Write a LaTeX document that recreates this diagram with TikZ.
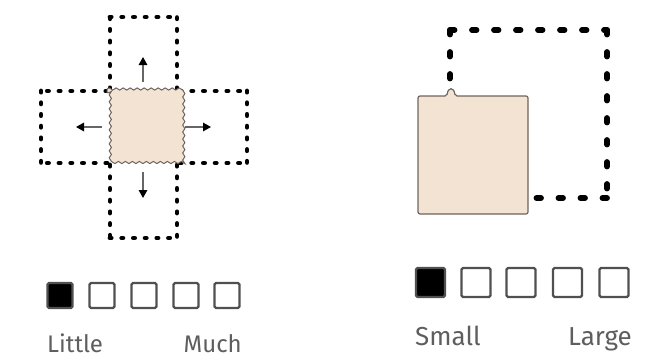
\documentclass[tikz,border=0pt]{standalone}
\usepackage{fontspec}
\setmainfont{Fira Sans}
\usetikzlibrary{decorations.pathmorphing,arrows.meta}
\definecolor{beige}{HTML}{F3E3D3}
\definecolor{rim}{HTML}{6E655E}
\definecolor{txt}{HTML}{5E5E5E}
\definecolor{boxline}{HTML}{505050}
\tikzset{
  dotline/.style={line width=4.8pt, line cap=round, dash pattern=on 1.2pt off 10.5pt},
  dashline/.style={line width=5.8pt, line cap=round, dash pattern=on 4.5pt off 17.5pt},
  pusharrow/.style={draw=black!60, line width=1.6pt,
    -{Triangle[length=8pt,width=8.5pt,color=black]}},
  scalebox/.style={draw=boxline, line width=2.3pt, rounded corners=1.5pt,
    inner sep=0pt, minimum size=#1},
  scalelabel/.style={text=txt, inner sep=0pt}
}
\begin{document}
\begin{tikzpicture}[x=1pt,y=-1pt]
\useasboundingbox (0,0) rectangle (652,361);

% ---- left: spreading square with four dotted fields ----
\coordinate (t1) at (110,89);  \coordinate (t2) at (110,17);
\coordinate (t3) at (177,17);  \coordinate (t4) at (177,89);
\coordinate (b1) at (110,165); \coordinate (b2) at (110,238);
\coordinate (b3) at (177,238); \coordinate (b4) at (177,165);
\coordinate (l1) at (107,91);  \coordinate (l2) at (41,91);
\coordinate (l3) at (41,163);  \coordinate (l4) at (107,163);
\coordinate (r1) at (180,91);  \coordinate (r2) at (247,91);
\coordinate (r3) at (247,163); \coordinate (r4) at (180,163);
\foreach \p/\q in {t1/t2,t2/t3,t4/t3, b1/b2,b2/b3,b4/b3,
                   l1/l2,l2/l3,l4/l3, r1/r2,r2/r3,r4/r3}
  \draw[dotline] (\p) -- (\q);

\filldraw[fill=beige, draw=rim, line width=1pt,
  decorate, decoration={snake, amplitude=1.1pt, segment length=7pt}]
  (107,89) -- (180,89) -- (180,165) -- (107,165) -- cycle;

\coordinate (au0) at (143,82);  \coordinate (au1) at (143,57);
\coordinate (ad0) at (143,172); \coordinate (ad1) at (143,198);
\coordinate (al0) at (102,127); \coordinate (al1) at (76,127);
\coordinate (ar0) at (185,127); \coordinate (ar1) at (211,127);
\draw[pusharrow] (au0) -- (au1);
\draw[pusharrow] (ad0) -- (ad1);
\draw[pusharrow] (al0) -- (al1);
\draw[pusharrow] (ar0) -- (ar1);

% ---- right: small square inside a large dashed field ----
\coordinate (d1) at (450,96);  \coordinate (d2) at (450,30);
\coordinate (d3) at (607,30);  \coordinate (d4) at (607,198);
\coordinate (d5) at (528,198);
\draw[dashline] (d2) -- (d1);
\draw[dashline] (d2) -- (d3);
\draw[dashline] (d3) -- (d4);
\draw[dashline] (d4) -- (d5);

\filldraw[fill=beige, draw=rim, line width=1.2pt, rounded corners=2pt]
  (418,96) -- (447,96) .. controls (448,87) and (454,87) .. (455,96)
  -- (528,96) -- (528,214) -- (418,214) -- cycle;

% ---- scales ----
\node[scalebox=25pt, fill=black] (a1) at (60,295.5) {};
\node[scalebox=25pt] (a2) at (102,295.5) {};
\node[scalebox=25pt] (a3) at (144,295.5) {};
\node[scalebox=25pt] (a4) at (186,295.5) {};
\node[scalebox=25pt] (a5) at (227,295.5) {};
\node[scalelabel, anchor=base west, font=\fontsize{24}{28}\selectfont] (little) at (47,352) {Little};
\node[scalelabel, anchor=base east, font=\fontsize{24}{28}\selectfont] (much) at (242,352) {Much};

\node[scalebox=29pt, fill=black] (s1) at (430.5,282.5) {};
\node[scalebox=29pt] (s2) at (476,282.5) {};
\node[scalebox=29pt] (s3) at (521,282.5) {};
\node[scalebox=29pt] (s4) at (567.5,282.5) {};
\node[scalebox=29pt] (s5) at (614,282.5) {};
\node[scalelabel, anchor=base west, font=\fontsize{26}{30}\selectfont] (small) at (415,345) {Small};
\node[scalelabel, anchor=base east, font=\fontsize{26}{30}\selectfont] (large) at (632,345) {Large};
\end{tikzpicture}
\end{document}
